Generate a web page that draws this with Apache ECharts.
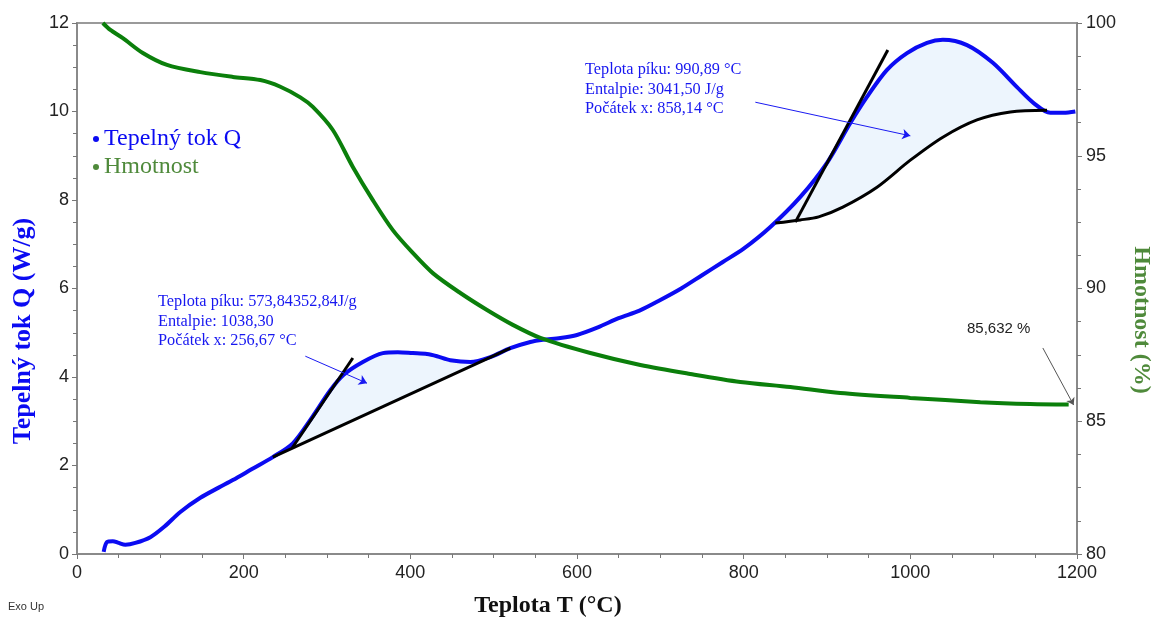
<!DOCTYPE html>
<html>
<head>
<meta charset="utf-8">
<script src="https://cdn.jsdelivr.net/npm/echarts@6/dist/echarts.min.js"></script>
<style>
  html, body { margin: 0; padding: 0; background: #fff; }
  #chart { width: 1156px; height: 618px; }
</style>
</head>
<body>
<div id="chart"></div>
<script>
// heat flow Q (W/g) vs temperature T (°C)
const heatFlow = [
  [32, 0.05], [36, 0.27], [43, 0.29], [50, 0.25], [58, 0.21], [70, 0.25], [88, 0.38],
  [105, 0.62], [124, 0.95], [148, 1.27], [170, 1.5], [187, 1.67], [210, 1.92], [235, 2.19],
  [259, 2.5], [280, 3.03], [304, 3.7], [320, 4.05], [343, 4.34], [367, 4.54], [385, 4.56],
  [403, 4.54], [420, 4.52], [432, 4.47], [448, 4.38], [472, 4.34], [496, 4.45], [520, 4.65],
  [544, 4.79], [559, 4.84], [580, 4.88], [600, 4.95], [625, 5.12], [650, 5.33], [675, 5.5],
  [700, 5.74], [725, 6.0], [750, 6.3], [775, 6.6], [800, 6.9], [832, 7.39], [868, 8.07],
  [900, 8.84], [928, 9.74], [948, 10.33], [972, 10.94], [996, 11.32], [1020, 11.55],
  [1039, 11.62], [1068, 11.5], [1099, 11.1], [1128, 10.55], [1148, 10.19], [1168, 9.97],
  [1184, 9.97], [1198, 10.0]
];
// mass (%) vs temperature
const mass = [
  [31, 100], [40, 99.74], [55, 99.43], [79, 98.87], [108, 98.42], [148, 98.15], [187, 97.97],
  [220, 97.85], [244, 97.6], [268, 97.2], [283, 96.84], [307, 95.97], [331, 94.58],
  [355, 93.33], [379, 92.2], [403, 91.34], [427, 90.58], [460, 89.83], [492, 89.19],
  [523, 88.63], [556, 88.14], [616, 87.57], [676, 87.12], [736, 86.78], [796, 86.48],
  [856, 86.29], [916, 86.06], [1000, 85.88], [1084, 85.72], [1144, 85.65], [1190, 85.63]
];
// peak evaluation lines
const baseline1 = [[235, 2.19], [520, 4.65]];
const tangent1 = [[258, 2.39], [331, 4.43]];
const baseline2 = [
  [838, 7.48], [868, 7.55], [890, 7.62], [919, 7.84], [960, 8.29], [1000, 8.9],
  [1039, 9.42], [1080, 9.81], [1120, 9.99], [1164, 10.03]
];
const tangent2 = [[862, 7.5], [973, 11.39]];
// annotation arrows (data coords)
const arrow1 = [[274, 4.47], [348, 3.86]];
const arrow2 = [[814, 10.21], [1000, 9.45]];
const arrowMass = [[1159, 87.76], [1196, 85.61]];

const xTicks = { min: 0, max: 1200, step: 200 };
const qTicks = { min: 0, max: 12, step: 2 };
const mTicks = { min: 80, max: 100, step: 5 };

const peak1Text = 'Teplota píku: 573,84352,84J/g\nEntalpie: 1038,30\nPočátek x: 256,67 °C';
const peak2Text = 'Teplota píku: 990,89 °C\nEntalpie: 3041,50 J/g\nPočátek x: 858,14 °C';

const BLUE = '#0b0bf2';
const GREEN = '#0b7f0b';
const GREEN_TXT = '#4f8a3b';
const SERIF = '"Liberation Serif", "Times New Roman", serif';
const SANS = '"Liberation Sans", Arial, sans-serif';

function peakPolygon(curve, base) {
  const lo = base[0][0], hi = base[base.length - 1][0];
  const top = curve.filter(p => p[0] >= lo && p[0] <= hi + 4);
  return top.concat(base.slice().reverse());
}
const fill1 = peakPolygon(heatFlow, baseline1);
const fill2 = peakPolygon(heatFlow, baseline2);

function fillSeries(poly) {
  return {
    type: 'custom',
    coordinateSystem: 'cartesian2d',
    silent: true,
    z: 1,
    data: [[0, 0]],
    renderItem: function (params, api) {
      return {
        type: 'polygon',
        shape: { points: poly.map(p => api.coord(p)), smooth: 0.2 },
        style: { fill: '#edf5fd', stroke: null }
      };
    }
  };
}

function blackLine(pts, smooth) {
  return {
    type: 'line',
    data: pts,
    smooth: smooth,
    showSymbol: false,
    silent: true,
    z: 4,
    lineStyle: { color: '#000', width: 3 }
  };
}

const axisCommon = {
  axisLine: { show: true, lineStyle: { color: '#8a8a8a', width: 2 } },
  axisTick: { show: true, length: 5, lineStyle: { color: '#777' } },
  minorTick: { show: true, splitNumber: 4, length: 4, lineStyle: { color: '#777' } },
  splitLine: { show: false },
  axisLabel: { color: '#222', fontSize: 18, fontFamily: SANS, formatter: v => String(v) }
};

const chart = echarts.init(document.getElementById('chart'));
chart.setOption({
  animation: false,
  backgroundColor: '#fff',
  grid: {
    left: 77, right: 79, top: 23, bottom: 64,
    show: true, borderColor: '#9a9a9a', borderWidth: 2
  },
  legend: {
    orient: 'vertical',
    left: 88,
    top: 122,
    itemGap: 4,
    itemWidth: 6,
    itemHeight: 6,
    icon: 'circle',
    textStyle: { fontFamily: SERIF, fontSize: 24 },
    data: [
      { name: 'Tepelný tok Q', itemStyle: { color: BLUE }, textStyle: { color: BLUE } },
      { name: 'Hmotnost', itemStyle: { color: GREEN_TXT }, textStyle: { color: GREEN_TXT } }
    ]
  },
  xAxis: Object.assign({
    type: 'value',
    min: xTicks.min, max: xTicks.max, interval: xTicks.step
  }, axisCommon, {
    axisLabel: Object.assign({}, axisCommon.axisLabel, { margin: 10 })
  }),
  yAxis: [
    Object.assign({
      type: 'value',
      min: qTicks.min, max: qTicks.max, interval: qTicks.step
    }, axisCommon, {
      axisLabel: Object.assign({}, axisCommon.axisLabel, { margin: 8 })
    }),
    Object.assign({
      type: 'value',
      position: 'right',
      min: mTicks.min, max: mTicks.max, interval: mTicks.step
    }, axisCommon, {
      axisLabel: Object.assign({}, axisCommon.axisLabel, { margin: 9 })
    })
  ],
  graphic: [
    {
      type: 'text', left: 158, top: 292, silent: true,
      style: { text: peak1Text, font: '16.3px ' + SERIF, fill: '#1717f0', lineHeight: 19.5 }
    },
    {
      type: 'text', left: 585, top: 60, silent: true,
      style: { text: peak2Text, font: '16.3px ' + SERIF, fill: '#1717f0', lineHeight: 19.5 }
    },
    {
      type: 'text', left: 967, top: 321, silent: true,
      style: { text: '85,632 %', font: '15px ' + SANS, fill: '#222' }
    },
    {
      type: 'text', x: 23, y: 331, rotation: Math.PI / 2, silent: true,
      style: {
        text: 'Tepelný tok Q (W/g)', font: 'bold 26px ' + SERIF, fill: BLUE,
        align: 'center', verticalAlign: 'middle'
      }
    },
    {
      type: 'text', x: 1141, y: 320, rotation: -Math.PI / 2, silent: true,
      style: {
        text: 'Hmotnost (%)', font: 'bold 24px ' + SERIF, fill: GREEN_TXT,
        align: 'center', verticalAlign: 'middle'
      }
    },
    {
      type: 'text', x: 548, y: 606, silent: true,
      style: {
        text: 'Teplota T (°C)', font: 'bold 24px ' + SERIF, fill: '#111',
        align: 'center', verticalAlign: 'middle'
      }
    },
    {
      type: 'text', left: 8, top: 601, silent: true,
      style: { text: 'Exo Up', font: '11px ' + SANS, fill: '#333' }
    }
  ],
  series: [
    fillSeries(fill1),
    fillSeries(fill2),
    {
      name: 'Tepelný tok Q',
      type: 'line',
      data: heatFlow,
      smooth: 0.3,
      showSymbol: false,
      z: 3,
      color: BLUE,
      lineStyle: { color: BLUE, width: 4 },
      markLine: {
        silent: true,
        symbol: ['none', 'arrow'],
        symbolSize: 8,
        label: { show: false },
        lineStyle: { color: '#1a1af2', width: 1, type: 'solid' },
        data: [
          [{ coord: arrow1[0] }, { coord: arrow1[1] }],
          [{ coord: arrow2[0] }, { coord: arrow2[1] }]
        ]
      }
    },
    {
      name: 'Hmotnost',
      type: 'line',
      yAxisIndex: 1,
      data: mass,
      smooth: 0.3,
      showSymbol: false,
      z: 3,
      color: GREEN,
      lineStyle: { color: GREEN, width: 4 },
      markLine: {
        silent: true,
        symbol: ['none', 'arrow'],
        symbolSize: 7,
        label: { show: false },
        lineStyle: { color: '#555', width: 1, type: 'solid' },
        data: [[{ coord: arrowMass[0] }, { coord: arrowMass[1] }]]
      }
    },
    blackLine(baseline1, false),
    blackLine(tangent1, false),
    blackLine(baseline2, 0.3),
    blackLine(tangent2, false)
  ]
});
</script>
</body>
</html>
